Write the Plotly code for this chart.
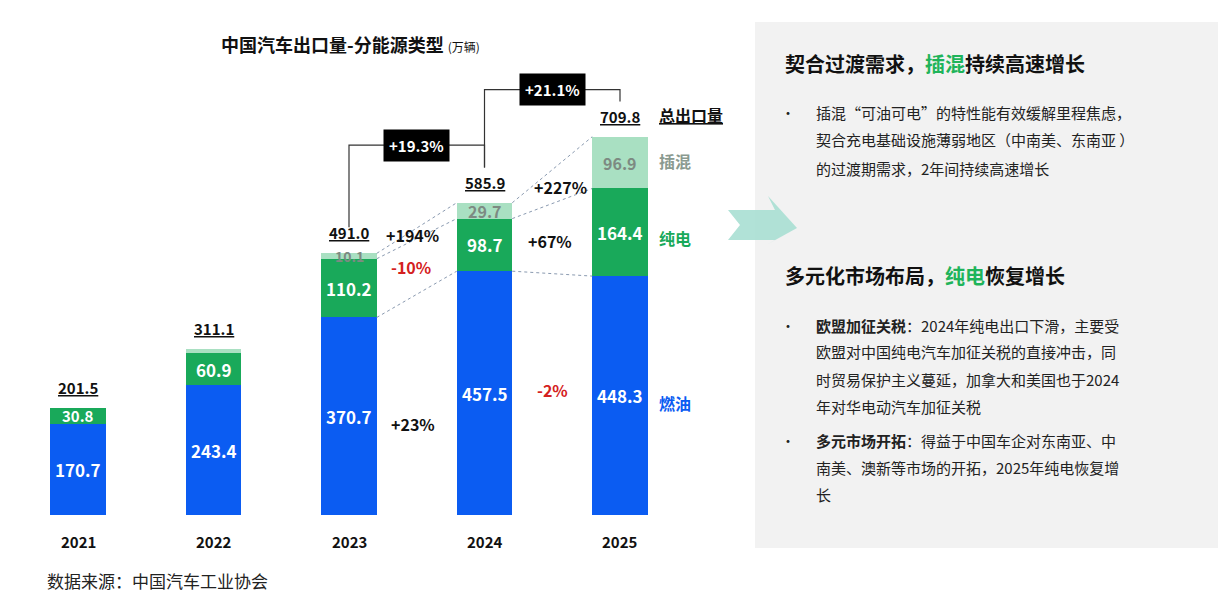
import plotly.graph_objects as go

years = ["2021", "2022", "2023", "2024", "2025"]
fuel = [170.7, 243.4, 370.7, 457.5, 448.3]
bev = [30.8, 60.9, 110.2, 98.7, 164.4]
phev = [0.0, 6.8, 10.1, 29.7, 96.9]
totals = [201.5, 311.1, 491.0, 585.9, 709.8]
phev_labels = ["", "", "10.1", "29.7", "96.9"]

W, H = 1227, 598
OFF = 8  # page margin offset
FONT = "Noto Sans CJK SC"
BLUE, GREEN, LIGHT = "#0b5cf2", "#19a95a", "#a9e0c2"


def px(x):
    return (x - OFF) / W


def py(y):
    return 1 - (y - OFF) / H


xi = list(range(len(years)))
fig = go.Figure()
fig.add_bar(x=xi, y=fuel, marker_color=BLUE, width=0.41)
fig.add_bar(x=xi, y=bev, marker_color=GREEN, width=0.41)
fig.add_bar(x=xi, y=phev, marker_color=LIGHT, width=0.41)
fig.update_traces(marker_line_width=0)

ann = []
shapes = []


def A(**kw):
    kw.setdefault("showarrow", False)
    kw.setdefault("xanchor", "center")
    kw.setdefault("yanchor", "middle")
    ann.append(kw)


# segment labels
for i in xi:
    A(x=i, y=fuel[i] / 2, text=f"<b>{fuel[i]:.1f}</b>", font=dict(size=17, color="white"))
    A(x=i, y=fuel[i] + bev[i] / 2, text=f"<b>{bev[i]:.1f}</b>",
      font=dict(size=17 if bev[i] > 40 else 15, color="white"))
    if phev_labels[i]:
        A(x=i, y=fuel[i] + bev[i] + phev[i] / 2, text=f"<b>{phev_labels[i]}</b>",
          font=dict(size=16 if phev[i] > 20 else 14, color="#7d8a82"))

# totals
for i, t in enumerate(totals):
    A(x=i, y=t, yshift=8, text=f"<b><u>{t:.1f}</u></b>", yanchor="bottom",
      font=dict(size=15, color="#111"))
# years
for i, yr in enumerate(years):
    A(x=i, y=0, yshift=-14, text=f"<b>{yr}</b>", yanchor="top", font=dict(size=15, color="#111"))

# dashed connectors
bw = 0.205
for a, b in [(2, 3), (3, 4)]:
    for ya, yb in [(totals[a], totals[b]), (fuel[a] + bev[a], fuel[b] + bev[b]), (fuel[a], fuel[b])]:
        shapes.append(dict(type="line", x0=a + bw, x1=b - bw, y0=ya, y1=yb,
                           line=dict(color="#8a9ab0", width=1, dash="dot")))


def bracket(a, b, ya, ytop, yb, label):
    shapes.append(dict(type="path", path=f"M {a},{ya} L {a},{ytop} L {b},{ytop} L {b},{yb}",
                       line=dict(color="#333", width=1.2)))
    A(x=(a + b) / 2, y=ytop, text=f"<b>{label}</b>", bgcolor="black",
      font=dict(color="white", size=15), borderpad=5)


bracket(2, 3, 540, 694, 652, "+19.3%")
bracket(3, 4, 652, 798, 776, "+21.1%")

# growth labels
for x, y, t, c in [(2.47, 525, "+194%", "#111"), (2.46, 465, "-10%", "#d42020"),
                   (2.47, 170, "+23%", "#111"), (3.56, 615, "+227%", "#111"),
                   (3.48, 515, "+67%", "#111"), (3.5, 235, "-2%", "#d42020")]:
    A(x=x, y=y, text=f"<b>{t}</b>", font=dict(size=16, color=c))

# series labels
for y, t, c in [(750, "<u>总出口量</u>", "#111"), (665, "插混", "#8a9a90"),
                (520, "纯电", GREEN), (210, "燃油", BLUE)]:
    A(x=4.27, y=y, text=f"<b>{t}</b>", xanchor="left", font=dict(size=16, color=c))

# title
A(xref="paper", yref="paper", x=px(350), y=py(44),
  text="<b>中国汽车出口量-分能源类型</b> <span style='font-size:12px'>(万辆)</span>",
  font=dict(size=18, color="#111"))

# right panel
shapes.append(dict(type="rect", xref="paper", yref="paper", x0=px(755), x1=px(1218),
                   y0=py(548), y1=py(22), fillcolor="#f2f2f2", line_width=0, layer="below"))
shapes.append(dict(type="path", xref="paper", yref="paper",
                   path=f"M {px(728)},{py(210)} L {px(775)},{py(210)} L {px(768)},{py(196)} "
                        f"L {px(797)},{py(228)} L {px(768)},{py(244)} L {px(775)},{py(240)} "
                        f"L {px(728)},{py(240)} L {px(740)},{py(225)} Z",
                   fillcolor="#a9dfd3", line_width=0, opacity=0.9))

G = "<span style='color:#1fb45a'>{}</span>"
for y, t in [(64, "<b>契合过渡需求，" + G.format("插混") + "持续高速增长</b>"),
             (275, "<b>多元化市场布局，" + G.format("纯电") + "恢复增长</b>")]:
    A(xref="paper", yref="paper", x=px(783), y=py(y), text=t, xanchor="left",
      font=dict(size=20, color="#111"))

body = [
    (112, "插混“可油可电”的特性能有效缓解里程焦虑，", True),
    (140, "契合充电基础设施薄弱地区（中南美、东南亚 ）", False),
    (168, "的过渡期需求，2年间持续高速增长", False),
    (325, "<b>欧盟加征关税</b>：2024年纯电出口下滑，主要受", True),
    (352, "欧盟对中国纯电汽车加征关税的直接冲击，同", False),
    (379, "时贸易保护主义蔓延，加拿大和美国也于2024", False),
    (406, "年对华电动汽车加征关税", False),
    (440, "<b>多元市场开拓</b>：得益于中国车企对东南亚、中", True),
    (467, "南美、澳新等市场的开拓，2025年纯电恢复增", False),
    (494, "长", False),
]
for y, t, bullet in body:
    A(xref="paper", yref="paper", x=px(814), y=py(y), text=t, xanchor="left",
      font=dict(size=15, color="#222"))
    if bullet:
        A(xref="paper", yref="paper", x=px(788), y=py(y), text="•", font=dict(size=14, color="#222"))

A(xref="paper", yref="paper", x=px(45), y=py(580), text="数据来源：中国汽车工业协会",
  xanchor="left", font=dict(size=17, color="#222"))

fig.update_layout(
    width=W, height=H, barmode="stack", showlegend=False,
    margin=dict(l=0, r=0, t=0, b=0),
    paper_bgcolor="white", plot_bgcolor="rgba(0,0,0,0)",
    font=dict(family=FONT),
    xaxis=dict(range=[-0.5, 4.5], domain=[(10.25 - OFF) / W, (687.75 - OFF) / W], visible=False),
    yaxis=dict(range=[0, 820], domain=[(H - 515 + OFF) / H, (H - 78 + OFF) / H], visible=False),
    annotations=ann, shapes=shapes,
)
fig.write_html("out.html")
